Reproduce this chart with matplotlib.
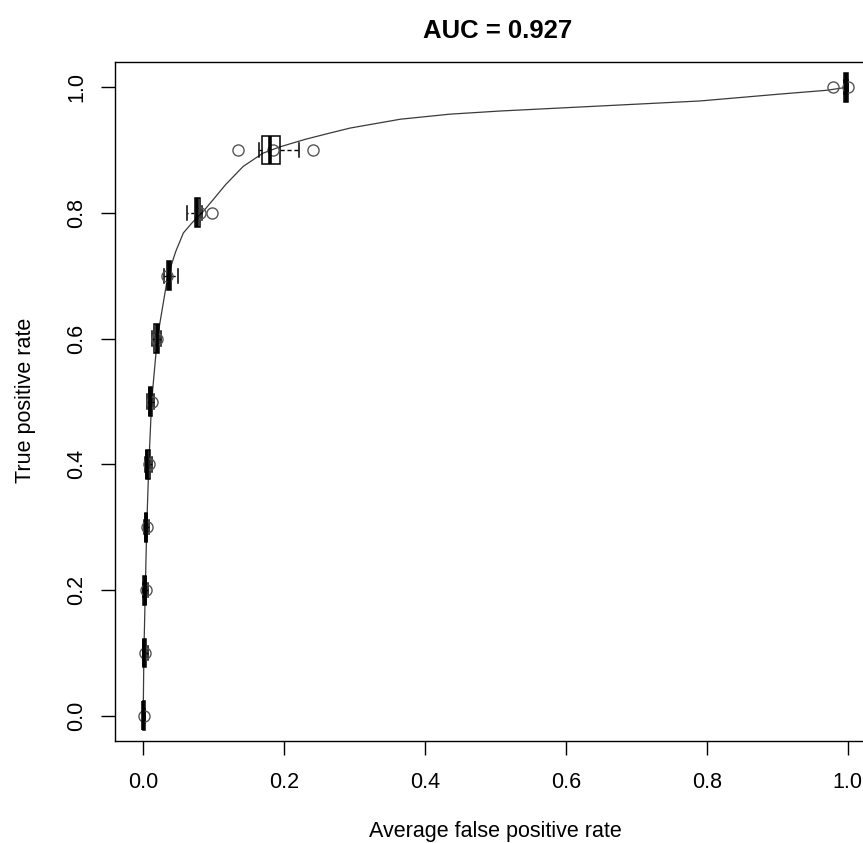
import matplotlib
matplotlib.use("Agg")
import matplotlib.pyplot as plt

plt.rcParams['font.family'] = ['Liberation Sans', 'DejaVu Sans']

# Averaged ROC curve: mean false positive rate at each true positive rate
curve_fpr = [0.000, 0.001, 0.003, 0.005, 0.008, 0.012, 0.020, 0.035, 0.046, 0.057,
             0.070, 0.085, 0.100, 0.117, 0.142, 0.170, 0.194, 0.230, 0.265, 0.294,
             0.365, 0.435, 0.506, 0.648, 0.790, 0.904, 0.970, 1.000]
curve_tpr = [0.000, 0.100, 0.200, 0.300, 0.400, 0.500, 0.600, 0.700, 0.738, 0.768,
             0.785, 0.802, 0.822, 0.845, 0.874, 0.895, 0.905, 0.917, 0.927, 0.935,
             0.949, 0.957, 0.962, 0.970, 0.978, 0.989, 0.995, 1.000]

# Spread of the false positive rate across runs at each TPR level
tpr_levels = [0.0, 0.1, 0.2, 0.3, 0.4, 0.5, 0.6, 0.7, 0.8, 0.9, 1.0]
fpr_whislo = [0.000, 0.000, 0.000, 0.001, 0.003, 0.006, 0.012, 0.030, 0.062, 0.165, 0.994]
fpr_q1     = [0.000, 0.000, 0.000, 0.002, 0.004, 0.008, 0.016, 0.034, 0.073, 0.169, 0.995]
fpr_med    = [0.000, 0.001, 0.002, 0.004, 0.006, 0.010, 0.019, 0.036, 0.076, 0.180, 0.998]
fpr_q3     = [0.002, 0.004, 0.004, 0.006, 0.009, 0.013, 0.022, 0.040, 0.080, 0.194, 1.000]
fpr_whishi = [0.003, 0.007, 0.007, 0.008, 0.012, 0.016, 0.025, 0.050, 0.083, 0.221, 1.000]
fpr_points = [[0.001], [0.002], [0.004], [0.005], [0.008], [0.013], [0.020], [0.034],
              [0.080, 0.098], [0.135, 0.184, 0.241], [0.979, 1.000]]

xticks = [0.0, 0.2, 0.4, 0.6, 0.8, 1.0]
yticks = [0.0, 0.2, 0.4, 0.6, 0.8, 1.0]
auc_value = 0.927

W, H = 863, 843
fig = plt.figure(figsize=(W / 100, H / 100), dpi=100)
ax = fig.add_axes([115 / W, 102 / H, 761 / W, 679 / H])

ax.plot(curve_fpr, curve_tpr, color='#3a3a3a', lw=0.9, zorder=2)

stats = []
for i, lev in enumerate(tpr_levels):
    stats.append(dict(whislo=fpr_whislo[i], q1=fpr_q1[i], med=fpr_med[i],
                      q3=fpr_q3[i], whishi=fpr_whishi[i], fliers=fpr_points[i]))

bxp_kw = dict(positions=tpr_levels, widths=0.046, capwidths=0.023,
              showfliers=True, patch_artist=True, manage_ticks=False,
              boxprops=dict(facecolor='none', edgecolor='black', lw=1.1),
              medianprops=dict(color='black', lw=2.6, solid_capstyle='butt'),
              whiskerprops=dict(color='black', lw=1.0, ls=(0, (3, 2))),
              capprops=dict(color='black', lw=1.1),
              flierprops=dict(marker='o', mfc='none', mec='#555555', ms=8, mew=1.0))
try:
    ax.bxp(stats, orientation='horizontal', **bxp_kw)
except TypeError:
    ax.bxp(stats, vert=False, **bxp_kw)

ax.set_xlim(-0.04, 1.04)
ax.set_ylim(-0.04, 1.04)
ax.set_xticks(xticks)
ax.set_xticklabels([f"{v:.1f}" for v in xticks])
ax.set_yticks(yticks)
ax.set_yticklabels([f"{v:.1f}" for v in yticks], rotation=90, va='center')

for s in ax.spines.values():
    s.set_linewidth(1.0)
ax.tick_params(axis='both', length=10, width=1.0, labelsize=15.5, colors='black')
ax.tick_params(axis='x', pad=12)
ax.tick_params(axis='y', pad=10)

fig.text(498 / W, 1 - 38 / H, f"AUC = {auc_value}", ha='center', va='baseline',
         fontsize=18.5, fontweight='bold')
fig.text(495 / W, 6 / H, "Average false positive rate", ha='center', va='baseline',
         fontsize=15.5)
fig.text(31 / W, 1 - 400 / H, "True positive rate", ha='center', va='baseline',
         rotation=90, rotation_mode='anchor', fontsize=15.5)

fig.savefig("out.png", dpi=100)
